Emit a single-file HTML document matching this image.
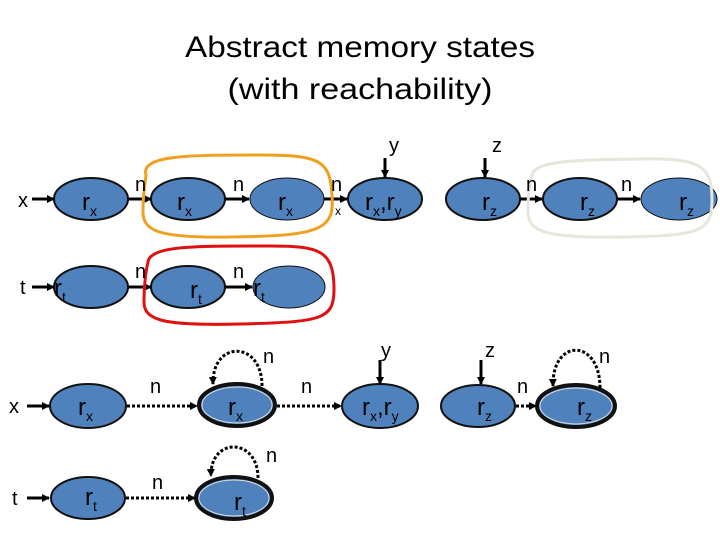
<!DOCTYPE html>
<html><head><meta charset="utf-8"><style>
html,body{margin:0;padding:0;background:#fff;width:720px;height:540px;overflow:hidden}
svg{display:block}
text{font-family:"Liberation Sans",sans-serif;fill:#000}
</style></head><body>
<svg width="720" height="540" viewBox="0 0 720 540" xmlns="http://www.w3.org/2000/svg">
<defs>
<marker id="a" markerWidth="8" markerHeight="8" refX="7" refY="4" orient="auto" markerUnits="userSpaceOnUse">
<path d="M0,0 L8,4 L0,8 z" fill="#000"/></marker>
<marker id="b" markerWidth="12" markerHeight="10" refX="11" refY="5" orient="auto" markerUnits="userSpaceOnUse">
<path d="M0,0 L12,5 L0,10 z" fill="#000"/></marker>
</defs>
<text x="360" y="57" font-size="30" text-anchor="middle" textLength="350" lengthAdjust="spacingAndGlyphs">Abstract memory states</text>
<text x="360" y="99" font-size="30" text-anchor="middle" textLength="265" lengthAdjust="spacingAndGlyphs">(with reachability)</text>

<g fill="#4f81bd" stroke="#111" stroke-width="2">
<ellipse cx="91" cy="199" rx="37" ry="21"/>
<ellipse cx="188" cy="199" rx="37" ry="21"/>
<ellipse cx="287" cy="199" rx="37" ry="21" stroke-width="1"/>
<ellipse cx="385" cy="199" rx="37" ry="21"/>
<ellipse cx="483" cy="199" rx="37" ry="21"/>
<ellipse cx="580" cy="199" rx="37" ry="21"/>
<ellipse cx="679" cy="199" rx="38" ry="21" stroke-width="1"/>
<ellipse cx="91" cy="287" rx="37" ry="21"/>
<ellipse cx="188" cy="287" rx="37" ry="21"/>
<ellipse cx="289" cy="287" rx="36" ry="21" stroke-width="1"/>
<ellipse cx="88" cy="406" rx="38" ry="22"/>
<ellipse cx="380" cy="406" rx="38" ry="22"/>
<ellipse cx="478" cy="406" rx="37" ry="21"/>
<ellipse cx="88" cy="498" rx="37" ry="21"/>
</g>
<g fill="#4f81bd" stroke="#111" stroke-width="4">
<ellipse cx="237" cy="405" rx="38" ry="21"/>
<ellipse cx="576" cy="406" rx="39" ry="21"/>
<ellipse cx="234" cy="498" rx="38" ry="21"/>
</g>
<g fill="none" stroke="#ddd" stroke-width="1">
<ellipse cx="237" cy="405" rx="35" ry="18"/>
<ellipse cx="576" cy="406" rx="36" ry="18"/>
<ellipse cx="234" cy="498" rx="35" ry="18"/>
</g>

<g stroke="#000" stroke-width="3" fill="none">
<line x1="32" y1="199" x2="54" y2="199" marker-end="url(#a)"/>
<line x1="128" y1="199" x2="151" y2="199" marker-end="url(#a)"/>
<line x1="225" y1="199" x2="249" y2="199" marker-end="url(#a)"/>
<line x1="324" y1="199" x2="347" y2="199" marker-end="url(#a)"/>
<line x1="520" y1="199" x2="542" y2="199" marker-end="url(#a)"/>
<line x1="617" y1="199" x2="640" y2="199" marker-end="url(#a)"/>
<line x1="32" y1="287" x2="54" y2="287" marker-end="url(#a)"/>
<line x1="128" y1="287" x2="151" y2="287" marker-end="url(#a)"/>
<line x1="225" y1="287" x2="252" y2="287" marker-end="url(#a)"/>
<line x1="385" y1="158" x2="385" y2="177" marker-end="url(#a)"/>
<line x1="485" y1="158" x2="485" y2="177" marker-end="url(#a)"/>
<line x1="380" y1="360" x2="380" y2="384" marker-end="url(#a)"/>
<line x1="481" y1="360" x2="481" y2="384" marker-end="url(#a)"/>
<line x1="27" y1="406" x2="49" y2="406" marker-end="url(#a)"/>
<line x1="27" y1="498" x2="49" y2="498" marker-end="url(#a)"/>
</g>
<g stroke="#000" stroke-width="3" stroke-dasharray="3,2" fill="none">
<line x1="127" y1="406" x2="197" y2="406" marker-end="url(#a)"/>
<line x1="277" y1="406" x2="341" y2="406" marker-end="url(#a)"/>
<line x1="516" y1="406" x2="536" y2="406" marker-end="url(#a)"/>
<line x1="126" y1="498" x2="195" y2="498" marker-end="url(#a)"/>
<path d="M262,386 C262,340 212,340 213,384" marker-end="url(#a)"/>
<path d="M600,388 C600,338 552,338 553,386" marker-end="url(#a)"/>
<path d="M258,478 C258,437 210,437 211,476" marker-end="url(#a)"/>
</g>

<path d="M146,175 C140,155 190,155 260,155 C320,155 330,160 332,195 C335,230 320,236 230,237 C160,238 142,232 143,210 C143,195 145,185 146,175 Z" fill="none" stroke="#f0a020" stroke-width="3"/>
<path d="M148,262 C150,245 200,246 270,246 C320,246 334,250 334,290 C334,320 320,322 240,324 C160,326 143,320 144,300 C144,285 146,270 148,262 Z" fill="none" stroke="#e01010" stroke-width="3"/>
<path d="M532,175 C535,160 580,160 640,159 C700,158 712,165 712,200 C712,232 700,236 620,237 C545,238 527,232 528,210 C528,195 529,185 532,175 Z" fill="none" stroke="#e6e6dc" stroke-width="3"/>

<g font-size="20">
<text x="18" y="207">x</text>
<text x="20" y="294">t</text>
<text x="135" y="191">n</text>
<text x="233" y="191">n</text>
<text x="331" y="191">n</text>
<text x="135" y="278">n</text>
<text x="233" y="278">n</text>
<text x="389" y="152">y</text>
<text x="492" y="152">z</text>
<text x="526" y="191">n</text>
<text x="621" y="191">n</text>
<text x="9" y="413">x</text>
<text x="12" y="505">t</text>
<text x="150" y="393">n</text>
<text x="301" y="393">n</text>
<text x="263" y="363">n</text>
<text x="381" y="357">y</text>
<text x="485" y="357">z</text>
<text x="517" y="393">n</text>
<text x="599" y="363">n</text>
<text x="152" y="489">n</text>
<text x="266" y="462">n</text>
</g>
<text x="335" y="215" font-size="12">x</text>
<g font-size="24">
<text x="82" y="210">r<tspan font-size="14" dy="6">x</tspan></text>
<text x="177" y="210">r<tspan font-size="14" dy="6">x</tspan></text>
<text x="278" y="210">r<tspan font-size="14" dy="6">x</tspan></text>
<text x="365" y="210">r<tspan font-size="14" dy="6">x</tspan><tspan dy="-6">,r</tspan><tspan font-size="14" dy="6">y</tspan></text>
<text x="482" y="210">r<tspan font-size="14" dy="6">z</tspan></text>
<text x="580" y="210">r<tspan font-size="14" dy="6">z</tspan></text>
<text x="679" y="210">r<tspan font-size="14" dy="6">z</tspan></text>
<text x="54" y="296">r<tspan font-size="14" dy="6">t</tspan></text>
<text x="190" y="298">r<tspan font-size="14" dy="6">t</tspan></text>
<text x="253" y="296">r<tspan font-size="14" dy="6">t</tspan></text>
<text x="78" y="415">r<tspan font-size="14" dy="6">x</tspan></text>
<text x="228" y="415">r<tspan font-size="14" dy="6">x</tspan></text>
<text x="362" y="415">r<tspan font-size="14" dy="6">x</tspan><tspan dy="-6">,r</tspan><tspan font-size="14" dy="6">y</tspan></text>
<text x="477" y="415">r<tspan font-size="14" dy="6">z</tspan></text>
<text x="577" y="415">r<tspan font-size="14" dy="6">z</tspan></text>
<text x="85" y="505">r<tspan font-size="14" dy="6">t</tspan></text>
<text x="234" y="510">r<tspan font-size="14" dy="6">t</tspan></text>
</g>
</svg>
</body></html>
